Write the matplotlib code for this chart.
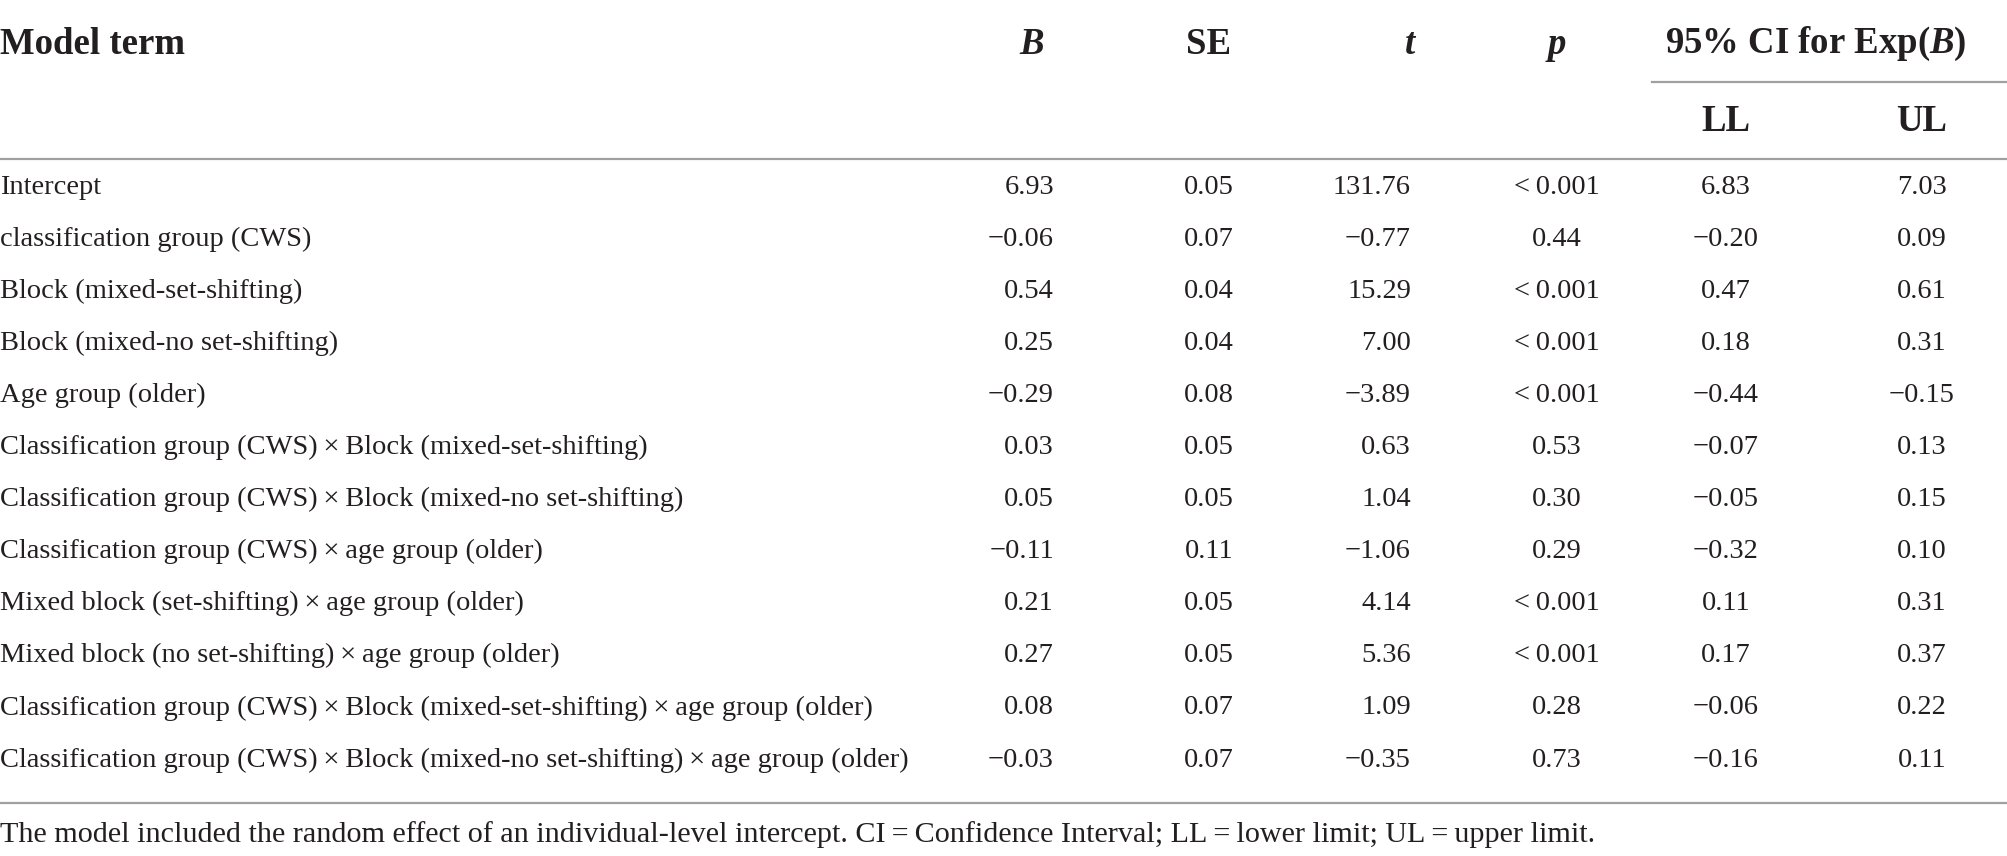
import matplotlib
matplotlib.use("Agg")
import matplotlib.pyplot as plt

# contenido de la tabla
terminos = [
    "Intercept",
    "classification group (CWS)",
    "Block (mixed-set-shifting)",
    "Block (mixed-no set-shifting)",
    "Age group (older)",
    "Classification group (CWS)\u2009×\u2009Block (mixed-set-shifting)",
    "Classification group (CWS)\u2009×\u2009Block (mixed-no set-shifting)",
    "Classification group (CWS)\u2009×\u2009age group (older)",
    "Mixed block (set-shifting)\u2009×\u2009age group (older)",
    "Mixed block (no set-shifting)\u2009×\u2009age group (older)",
    "Classification group (CWS)\u2009×\u2009Block (mixed-set-shifting)\u2009×\u2009age group (older)",
    "Classification group (CWS)\u2009×\u2009Block (mixed-no set-shifting)\u2009×\u2009age group (older)",
]
B = ["6.93", "−0.06", "0.54", "0.25", "−0.29", "0.03", "0.05", "−0.11", "0.21", "0.27", "0.08", "−0.03"]
SE = ["0.05", "0.07", "0.04", "0.04", "0.08", "0.05", "0.05", "0.11", "0.05", "0.05", "0.07", "0.07"]
t = ["131.76", "−0.77", "15.29", "7.00", "−3.89", "0.63", "1.04", "−1.06", "4.14", "5.36", "1.09", "−0.35"]
p = ["<\u20090.001", "0.44", "<\u20090.001", "<\u20090.001", "<\u20090.001", "0.53", "0.30", "0.29",
     "<\u20090.001", "<\u20090.001", "0.28", "0.73"]
LL = ["6.83", "−0.20", "0.47", "0.18", "−0.44", "−0.07", "−0.05", "−0.32", "0.11", "0.17", "−0.06", "−0.16"]
UL = ["7.03", "0.09", "0.61", "0.31", "−0.15", "0.13", "0.15", "0.10", "0.31", "0.37", "0.22", "0.11"]
nota = ("The model included the random effect of an individual-level intercept. "
        "CI\u2009=\u2009Confidence Interval; LL\u2009=\u2009lower limit; UL\u2009=\u2009upper limit.")

plt.rcParams["font.family"] = ["Liberation Serif", "DejaVu Serif"]
plt.rcParams["mathtext.fontset"] = "custom"
plt.rcParams["mathtext.rm"] = "Liberation Serif:bold"
plt.rcParams["mathtext.it"] = "Liberation Serif:italic:bold"

color = "#231f20"
gris = "#a0a0a0"
fs = 20.5
fs_h = 26.5
fs_n = 21.7

fig = plt.figure(figsize=(20.08, 8.56), dpi=100)
ax = fig.add_axes([0, 0, 1, 1])
ax.set_xlim(0, 2008)
ax.set_ylim(856, 0)
ax.axis("off")

# encabezados
y_h = 44
ax.text(0, y_h, "Model term", fontsize=fs_h, fontweight="bold", color=color, ha="left", va="center")
ax.text(1032, y_h, "B", fontsize=fs_h, fontweight="bold", style="italic", color=color, ha="center", va="center")
ax.text(1209, y_h, "SE", fontsize=fs_h, fontweight="bold", color=color, ha="center", va="center")
ax.text(1410, y_h, "t", fontsize=fs_h, fontweight="bold", style="italic", color=color, ha="center", va="center")
ax.text(1557, y_h, "p", fontsize=fs_h, fontweight="bold", style="italic", color=color, ha="center", va="center")
ax.text(1816, y_h, r"95% CI for Exp($\mathit{B}$)", fontsize=fs_h, fontweight="bold", color=color,
        ha="center", va="center")
ax.text(1726, 121, "LL", fontsize=fs_h, fontweight="bold", color=color, ha="center", va="center")
ax.text(1922, 121, "UL", fontsize=fs_h, fontweight="bold", color=color, ha="center", va="center")

ax.plot([1652, 2008], [82, 82], color=gris, lw=1.6)
ax.plot([0, 2008], [159, 159], color=gris, lw=1.6)

# filas
y0 = 187
dy = 52.1
for i in range(len(terminos)):
    y = y0 + i * dy
    ax.text(0, y, terminos[i], fontsize=fs, color=color, ha="left", va="center")
    ax.text(1054, y, B[i], fontsize=fs, color=color, ha="right", va="center")
    ax.text(1209, y, SE[i], fontsize=fs, color=color, ha="center", va="center")
    ax.text(1411, y, t[i], fontsize=fs, color=color, ha="right", va="center")
    ax.text(1557, y, p[i], fontsize=fs, color=color, ha="center", va="center")
    ax.text(1726, y, LL[i], fontsize=fs, color=color, ha="center", va="center")
    ax.text(1922, y, UL[i], fontsize=fs, color=color, ha="center", va="center")

ax.plot([0, 2008], [803, 803], color=gris, lw=1.6)
ax.text(0, 835, nota, fontsize=fs_n, color=color, ha="left", va="center")

fig.savefig("out.png", dpi=100)
